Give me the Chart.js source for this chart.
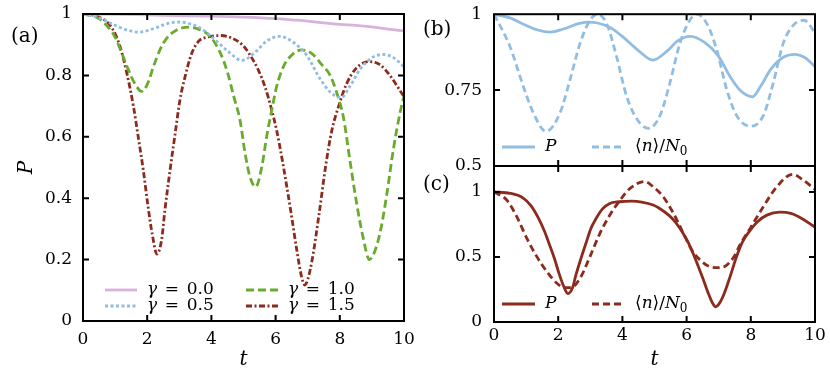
<!DOCTYPE html>
<html>
<head>
<meta charset="utf-8">
<script src="https://cdn.jsdelivr.net/npm/chart.js@4.4.0/dist/chart.umd.min.js"></script>
<style>
  body { margin: 0; background: #fff; }
  #wrap { position: relative; width: 830px; height: 373px; }
  canvas { position: absolute; }
</style>
</head>
<body>
<div id="wrap">
  <canvas id="chartA" width="420" height="373" style="left:0;top:0"></canvas>
  <canvas id="chartB" width="410" height="185" style="left:420px;top:0"></canvas>
  <canvas id="chartC" width="410" height="223" style="left:420px;top:150px"></canvas>
</div>
<script>
// [t, value] pairs
const gamma00 = [[0,1],[1,0.999],[2,0.997],[3,0.995],[4,0.993],[5,0.99],[6,0.985],[6.5,0.981],[7,0.977],[7.5,0.971],[8,0.966],[8.5,0.963],[9,0.958],[9.5,0.951],[10,0.945]];
const gamma05 = [[0,1],[0.5,0.988],[0.94,0.966],[1.36,0.948],[1.75,0.941],[2.19,0.952],[2.6,0.968],[2.92,0.974],[3.23,0.971],[3.64,0.955],[4.06,0.921],[4.48,0.882],[4.95,0.849],[5.41,0.88],[5.72,0.912],[6.12,0.927],[6.55,0.908],[6.97,0.865],[7.38,0.79],[7.7,0.746],[8.05,0.728],[8.32,0.765],[8.63,0.82],[9.04,0.86],[9.38,0.868],[9.67,0.858],[10,0.828]];
const gamma10 = [[0,1],[0.5,0.985],[0.84,0.95],[1.0,0.925],[1.2,0.875],[1.4,0.822],[1.6,0.776],[1.83,0.748],[2.0,0.77],[2.2,0.83],[2.4,0.884],[2.6,0.92],[2.92,0.948],[3.3,0.957],[3.64,0.949],[3.96,0.927],[4.27,0.875],[4.5,0.81],[4.7,0.73],[4.89,0.655],[5.05,0.546],[5.2,0.47],[5.38,0.437],[5.57,0.502],[5.72,0.6],[5.88,0.687],[6.03,0.763],[6.24,0.828],[6.5,0.866],[6.81,0.883],[7.12,0.872],[7.44,0.835],[7.7,0.8],[7.9,0.745],[8.11,0.665],[8.32,0.52],[8.53,0.38],[8.73,0.27],[8.92,0.2],[9.1,0.23],[9.28,0.3],[9.46,0.41],[9.67,0.56],[9.88,0.68],[10,0.733]];
const gamma15 = [[0,1],[0.5,0.99],[0.9,0.955],[1.15,0.895],[1.36,0.81],[1.57,0.7],[1.72,0.6],[1.88,0.49],[2.03,0.37],[2.17,0.275],[2.3,0.218],[2.45,0.265],[2.55,0.36],[2.71,0.49],[2.87,0.61],[3.02,0.72],[3.18,0.796],[3.38,0.87],[3.59,0.91],[3.9,0.925],[4.3,0.93],[4.6,0.923],[4.96,0.9],[5.15,0.875],[5.46,0.818],[5.67,0.763],[5.88,0.687],[6.03,0.622],[6.19,0.535],[6.35,0.437],[6.5,0.34],[6.66,0.231],[6.81,0.144],[6.91,0.117],[7.0,0.135],[7.14,0.2],[7.35,0.345],[7.56,0.505],[7.75,0.62],[7.98,0.705],[8.2,0.77],[8.5,0.822],[8.9,0.845],[9.25,0.835],[9.56,0.8],[9.85,0.755],[10,0.73]];
const occ05 = [[0,1],[0.5,0.893],[0.91,0.763],[1.22,0.676],[1.62,0.614],[2.06,0.676],[2.37,0.785],[2.68,0.904],[2.99,0.98],[3.22,1.0],[3.51,0.969],[3.82,0.86],[4.13,0.73],[4.45,0.655],[4.81,0.624],[5.17,0.666],[5.48,0.774],[5.79,0.904],[6.1,0.98],[6.31,1.0],[6.63,0.969],[6.94,0.882],[7.25,0.752],[7.56,0.666],[8.0,0.631],[8.39,0.666],[8.7,0.774],[9.01,0.904],[9.32,0.963],[9.66,0.98],[10,0.94]];
const occ15 = [[0,1],[0.39,0.94],[0.71,0.81],[1.02,0.645],[1.33,0.505],[1.64,0.39],[1.95,0.3],[2.2,0.265],[2.4,0.265],[2.68,0.336],[2.99,0.503],[3.3,0.682],[3.61,0.823],[3.93,0.938],[4.24,1.028],[4.7,1.08],[4.96,1.04],[5.27,0.964],[5.59,0.836],[5.9,0.682],[6.16,0.554],[6.42,0.477],[6.73,0.425],[6.99,0.418],[7.25,0.438],[7.51,0.515],[7.66,0.592],[7.98,0.72],[8.39,0.887],[8.81,1.04],[9.3,1.136],[9.64,1.09],[10,1.02]];

const labelsA = ["γ = 0.0", "γ = 0.5", "γ = 1.0", "γ = 1.5"];
const labelsBC = ["P", "⟨n⟩/N₀"];

const FONT = "'DejaVu Serif', serif";
const TICK = 6;
const PINK = "#d8b2dc", BLUE = "#92bde2", GREEN = "#69ab2c", RED = "#8c2b1d";

function pts(a) {
  return a.map(p => ({ x: p[0], y: p[1] }));
}

// letters italic, the rest upright, ₀ as a subscript
function richText(ctx, text, x, y, size) {
  let cx = x;
  for (const ch of text) {
    if (ch === " ") { cx += size * 0.45; continue; }
    let c = ch, dy = 0, font = size + "px " + FONT;
    if (/[A-Za-z\u03b1-\u03c9]/.test(ch)) font = "italic " + font;
    if (ch === "₀") { c = "0"; font = Math.round(size * 0.7) + "px " + FONT; dy = size * 0.3; }
    ctx.font = font;
    ctx.fillText(c, cx, y + dy);
    cx += ctx.measureText(c).width;
  }
}

// box with inward ticks on all four sides
const framePlugin = {
  id: "frame",
  afterDatasetsDraw(chart) {
    const { ctx, chartArea: a, scales: { x, y } } = chart;
    ctx.save();
    ctx.strokeStyle = "#000";
    ctx.lineWidth = 2;
    ctx.beginPath();
    x.ticks.forEach(t => {
      const px = x.getPixelForValue(t.value);
      if (px <= a.left + 1 || px >= a.right - 1) return;
      ctx.moveTo(px, a.bottom); ctx.lineTo(px, a.bottom - TICK);
      ctx.moveTo(px, a.top); ctx.lineTo(px, a.top + TICK);
    });
    y.ticks.forEach(t => {
      const py = y.getPixelForValue(t.value);
      if (py <= a.top + 1 || py >= a.bottom - 1) return;
      ctx.moveTo(a.left, py); ctx.lineTo(a.left + TICK, py);
      ctx.moveTo(a.right, py); ctx.lineTo(a.right - TICK, py);
    });
    ctx.stroke();
    ctx.strokeRect(a.left, a.top, a.right - a.left, a.bottom - a.top);
    ctx.restore();
  }
};

// panel tag and key
const keyPlugin = {
  id: "key",
  afterDatasetsDraw(chart, args, opts) {
    const ctx = chart.ctx;
    ctx.save();
    ctx.fillStyle = "#000";
    ctx.textBaseline = "middle";
    ctx.font = "20px " + FONT;
    ctx.fillText(opts.tag, opts.tagX, opts.tagY);
    opts.entries.forEach(e => {
      const ds = chart.data.datasets[e.ds];
      ctx.strokeStyle = ds.borderColor;
      ctx.lineWidth = ds.borderWidth;
      ctx.setLineDash(ds.borderDash || []);
      ctx.beginPath();
      ctx.moveTo(e.x, e.y);
      ctx.lineTo(e.x + opts.sample, e.y);
      ctx.stroke();
      ctx.setLineDash([]);
      richText(ctx, ds.label, e.x + opts.sample + opts.gap, e.y, 17);
    });
    ctx.restore();
  }
};

function line(label, data, color, dash) {
  return {
    label: label,
    data: pts(data),
    borderColor: color,
    borderWidth: 2.8,
    borderDash: dash,
    fill: false
  };
}

function makePanel(id, datasets, cfg) {
  const tickFont = { family: FONT, size: 17 };
  const fmt = v => String(+v.toFixed(2));
  return new Chart(document.getElementById(id), {
    type: "line",
    data: { datasets: datasets },
    options: {
      responsive: false,
      animation: false,
      devicePixelRatio: 1,
      layout: { padding: cfg.padding },
      elements: { point: { radius: 0 }, line: { cubicInterpolationMode: "monotone" } },
      plugins: { legend: { display: false }, tooltip: { enabled: false }, key: cfg.key },
      scales: {
        x: {
          type: "linear", min: 0, max: 10,
          afterFit: s => { s.height = cfg.xHeight; },
          grid: { display: false }, border: { display: false },
          ticks: { stepSize: 2, display: cfg.xLabels, padding: cfg.xPad, color: "#000", font: tickFont, callback: fmt },
          title: {
            display: cfg.xLabels, text: "t", color: "#000",
            font: { family: FONT, size: 20, style: "italic" }, padding: { top: 0, bottom: 1 }
          }
        },
        y: {
          min: cfg.yMin, max: cfg.yMax,
          afterFit: s => { s.width = cfg.yWidth; },
          grid: { display: false }, border: { display: false },
          ticks: { stepSize: cfg.yStep, includeBounds: false, padding: cfg.yPad, color: "#000", font: tickFont, callback: fmt },
          title: {
            display: !!cfg.yTitle, text: cfg.yTitle, color: "#000",
            font: { family: FONT, size: 20, style: "italic" }, padding: { top: 15, bottom: 0 }
          }
        }
      }
    },
    plugins: [framePlugin, keyPlugin]
  });
}

makePanel("chartA", [
  line(labelsA[0], gamma00, PINK, []),
  line(labelsA[1], gamma05, BLUE, [3, 2.5]),
  line(labelsA[2], gamma10, GREEN, [8, 4]),
  line(labelsA[3], gamma15, RED, [6, 2.5, 2, 2.5])
], {
  padding: { top: 14, right: 16, left: 0, bottom: 0 },
  xHeight: 52, xLabels: true, xPad: 0,
  yWidth: 83, yMin: 0, yMax: 1, yStep: 0.2, yPad: 3, yTitle: "P",
  key: {
    tag: "(a)", tagX: 11, tagY: 37, sample: 32, gap: 10,
    entries: [
      { ds: 0, x: 105, y: 290 }, { ds: 1, x: 105, y: 306 },
      { ds: 2, x: 246, y: 290 }, { ds: 3, x: 246, y: 306 }
    ]
  }
});

makePanel("chartB", [
  line(labelsBC[0], gamma05, BLUE, []),
  line(labelsBC[1], occ05, BLUE, [7, 4])
], {
  padding: { top: 12, right: 15, left: 0, bottom: 0 },
  xHeight: 19, xLabels: false, xPad: 0,
  yWidth: 74, yMin: 0.5, yMax: 1, yStep: 0.25, yPad: 4, yTitle: "",
  key: {
    tag: "(b)", tagX: 3, tagY: 30, sample: 33, gap: 10,
    entries: [{ ds: 0, x: 82, y: 147 }, { ds: 1, x: 172, y: 147 }]
  }
});

makePanel("chartC", [
  line(labelsBC[0], gamma15, RED, []),
  line(labelsBC[1], occ15, RED, [7, 4])
], {
  padding: { top: 16, right: 15, left: 0, bottom: 0 },
  xHeight: 51, xLabels: true, xPad: -5,
  yWidth: 74, yMin: 0, yMax: 1.2, yStep: 0.5, yPad: 4, yTitle: "",
  key: {
    tag: "(c)", tagX: 3, tagY: 35, sample: 33, gap: 10,
    entries: [{ ds: 0, x: 82, y: 154 }, { ds: 1, x: 172, y: 154 }]
  }
});
</script>
</body>
</html>
